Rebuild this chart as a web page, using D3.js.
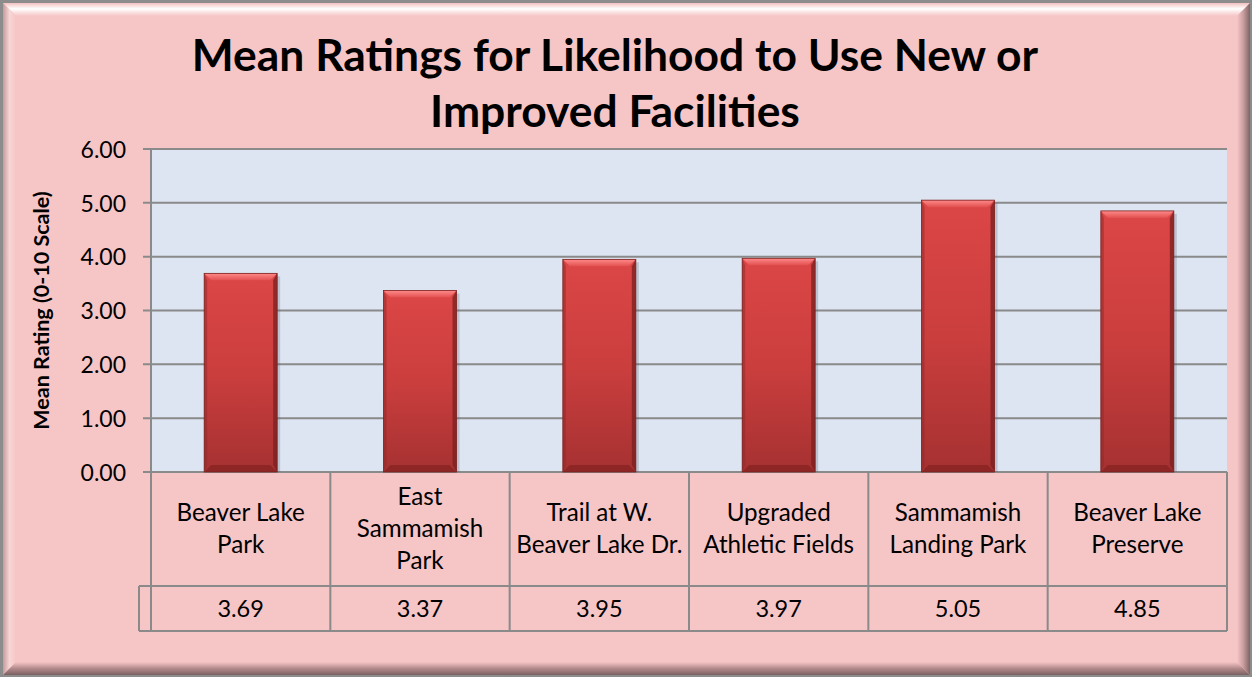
<!DOCTYPE html>
<html>
<head>
<meta charset="utf-8">
<script src="https://cdn.jsdelivr.net/npm/d3@7"></script>
<style>
  html, body { margin: 0; padding: 0; background: #fff; }
  svg { display: block; }
  text { font-family: Lato, "Open Sans", sans-serif; fill: #000; }
</style>
</head>
<body>
<svg id="chart" width="1252" height="677"></svg>
<script>
const titleLines = ["Mean Ratings for Likelihood to Use New or", "Improved Facilities"];
const yAxisTitle = "Mean Rating (0-10 Scale)";
const categories = ["Beaver Lake\nPark", "East\nSammamish\nPark", "Trail at W.\nBeaver Lake Dr.", "Upgraded\nAthletic Fields", "Sammamish\nLanding Park", "Beaver Lake\nPreserve"];
const values = [3.69, 3.37, 3.95, 3.97, 5.05, 4.85];
const yTicks = [0, 1, 2, 3, 4, 5, 6];

const W = 1252, H = 677;
const svg = d3.select("#chart");
const defs = svg.append("defs");

function lin(id, x2, y2, stops) {
  const g = defs.append("linearGradient").attr("id", id)
    .attr("x1", 0).attr("y1", 0).attr("x2", x2).attr("y2", y2);
  stops.forEach(s => g.append("stop").attr("offset", s[0]).attr("stop-color", s[1]));
}
lin("barGrad", 0, 1, [[0, "#DC4646"], [0.5, "#CB3E3E"], [1, "#A63131"]]);
lin("bevTop", 0, 1, [[0, "#FF8A8A"], [1, "#E25050"]]);
lin("frameTop", 0, 1, [[0, "#F3C0C0"], [0.45, "#FFFFFF"], [1, "#F6C5C6"]]);
lin("frameLeft", 1, 0, [[0, "#C59A9B"], [0.5, "#F8D6D6"], [1, "#F6C5C6"]]);
lin("frameRight", 1, 0, [[0, "#F6C5C6"], [0.5, "#C79C9D"], [1, "#7E6364"]]);
lin("frameBottom", 0, 1, [[0, "#F6C5C6"], [0.5, "#B38A8B"], [1, "#7A6061"]]);

// Outer frame
const bg = "#F6C5C6";
svg.append("rect").attr("x", 0).attr("y", 0).attr("width", W).attr("height", H).attr("fill", "#8C8C8C");
const fx0 = 3, fy0 = 3, fx1 = W - 2, fy1 = H - 2, bw = 13;
svg.append("rect").attr("x", fx0).attr("y", fy0).attr("width", fx1 - fx0).attr("height", fy1 - fy0).attr("fill", bg);
svg.append("polygon").attr("points", [[fx0, fy0], [fx1, fy0], [fx1 - bw, fy0 + bw], [fx0 + bw, fy0 + bw]].join(" ")).attr("fill", "url(#frameTop)");
svg.append("polygon").attr("points", [[fx0, fy0], [fx0 + bw, fy0 + bw], [fx0 + bw, fy1 - bw], [fx0, fy1]].join(" ")).attr("fill", "url(#frameLeft)");
svg.append("polygon").attr("points", [[fx1, fy0], [fx1, fy1], [fx1 - bw, fy1 - bw], [fx1 - bw, fy0 + bw]].join(" ")).attr("fill", "url(#frameRight)");
svg.append("polygon").attr("points", [[fx0, fy1], [fx1, fy1], [fx1 - bw, fy1 - bw], [fx0 + bw, fy1 - bw]].join(" ")).attr("fill", "url(#frameBottom)");

// Scales
const plotL = 151, plotR = 1227, plotT = 149, plotB = 472;
const y = d3.scaleLinear().domain([0, 6]).range([plotB, plotT]);
const xCol = d3.scaleBand().domain(categories).range([plotL, plotR]);
const x = d3.scaleBand().domain(categories).range([plotL, plotR]).paddingInner(0.593).paddingOuter(0.2965);

// Plot area
svg.append("rect").attr("x", plotL).attr("y", plotT).attr("width", plotR - plotL).attr("height", plotB - plotT).attr("fill", "#DCE5F1");

// Gridlines
const gridColor = "#8A8A8A";
svg.append("g").selectAll("line").data(yTicks).join("line")
  .attr("x1", plotL - 8).attr("x2", plotR)
  .attr("y1", d => y(d)).attr("y2", d => y(d))
  .attr("stroke", gridColor).attr("stroke-width", 2);
svg.append("line").attr("x1", plotL).attr("x2", plotL).attr("y1", plotT).attr("y2", plotB).attr("stroke", gridColor).attr("stroke-width", 2);

// Y axis labels
const yAxis = d3.axisLeft(y).tickValues(yTicks).tickFormat(d3.format(".2f")).tickSize(0).tickPadding(0);
const yg = svg.append("g").attr("transform", `translate(126,0)`).call(yAxis);
yg.select(".domain").remove();
yg.selectAll("text").attr("font-size", 23).attr("font-family", "Lato, sans-serif").attr("fill", "#000").attr("dy", "0.36em");

// Y axis title
svg.append("text").attr("transform", `translate(49,${(plotT + plotB) / 2}) rotate(-90)`)
  .attr("text-anchor", "middle").attr("font-size", 21.5).attr("font-weight", "bold").text(yAxisTitle);

// Title
svg.append("g").selectAll("text").data(titleLines).join("text")
  .attr("x", 615).attr("y", (d, i) => 71 + i * 56)
  .attr("text-anchor", "middle").attr("font-size", 44.4).attr("font-weight", "bold").text(d => d);

// Bars
const bars = svg.append("g").selectAll("g").data(values).join("g");
bars.each(function (v, i) {
  const g = d3.select(this);
  const x0 = x(categories[i]), w = x.bandwidth(), y0 = y(v), y1 = y(0), x1 = x0 + w;
  const b = 7;
  g.append("rect").attr("x", x0 + 3).attr("y", y0 + 3).attr("width", w).attr("height", y1 - y0 - 3).attr("fill", "rgba(90,90,110,0.25)");
  g.append("rect").attr("x", x0).attr("y", y0).attr("width", w).attr("height", y1 - y0).attr("fill", "url(#barGrad)");
  g.append("polygon").attr("points", [[x0, y0], [x1, y0], [x1 - b, y0 + b], [x0 + b, y0 + b]].join(" ")).attr("fill", "url(#bevTop)");
  g.append("polygon").attr("points", [[x0, y1], [x1, y1], [x1 - b, y1 - b], [x0 + b, y1 - b]].join(" ")).attr("fill", "#8A2525").attr("opacity", 0.85);
  g.append("polygon").attr("points", [[x1, y0], [x1, y1], [x1 - 4, y1 - b], [x1 - 4, y0 + b]].join(" ")).attr("fill", "#7A2020").attr("opacity", 0.75);
  g.append("polygon").attr("points", [[x0, y0], [x0 + 3, y0 + b], [x0 + 3, y1 - b], [x0, y1]].join(" ")).attr("fill", "#8E2A2A").attr("opacity", 0.5);
  g.append("rect").attr("x", x0).attr("y", y0).attr("width", w).attr("height", y1 - y0).attr("fill", "none").attr("stroke", "#7A2222").attr("stroke-width", 0.8);
});

// Data table
const rowT = plotB, rowM = 586, rowB = 631, keyL = 139;
const tbl = svg.append("g").attr("stroke", gridColor).attr("stroke-width", 2).attr("fill", "none");
tbl.append("line").attr("x1", keyL).attr("x2", plotR).attr("y1", rowM).attr("y2", rowM);
tbl.append("line").attr("x1", keyL).attr("x2", plotR).attr("y1", rowB).attr("y2", rowB);
tbl.append("line").attr("x1", keyL).attr("x2", keyL).attr("y1", rowM).attr("y2", rowB);
const edges = categories.map(c => xCol(c)).concat([plotR]);
tbl.selectAll("line.col").data(edges).join("line").attr("class", "col")
  .attr("x1", d => d).attr("x2", d => d).attr("y1", rowT).attr("y2", rowB);

// Category labels
const lineH = 32;
svg.append("g").selectAll("text").data(categories).join("text")
  .attr("text-anchor", "middle").attr("font-size", 24.2)
  .each(function (c) {
    const lines = c.split("\n");
    const cx = xCol(c) + xCol.bandwidth() / 2;
    const cy = (rowT + rowM) / 2 + 8 - (lines.length - 1) * lineH / 2;
    d3.select(this).selectAll("tspan").data(lines).join("tspan")
      .attr("x", cx).attr("y", (d, i) => cy + i * lineH).text(d => d);
  });

// Value labels
svg.append("g").selectAll("text").data(values).join("text")
  .attr("x", (d, i) => xCol(categories[i]) + xCol.bandwidth() / 2)
  .attr("y", (rowM + rowB) / 2 + 8)
  .attr("text-anchor", "middle").attr("font-size", 23.5)
  .text(d => d3.format(".2f")(d));
</script>
</body>
</html>
